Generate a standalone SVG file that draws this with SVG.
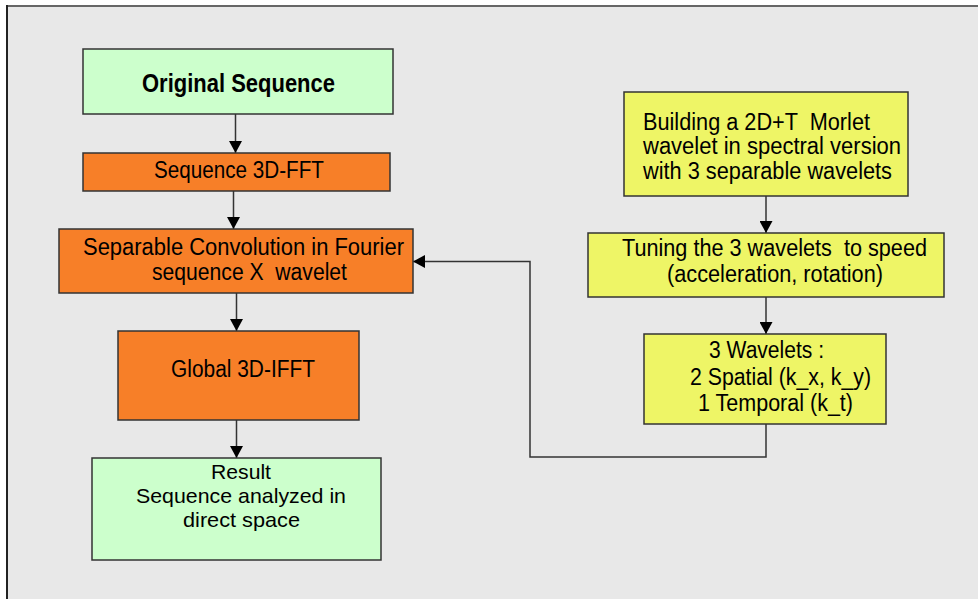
<svg xmlns="http://www.w3.org/2000/svg" width="978" height="599" viewBox="0 0 978 599">
  <defs>
    <style>
      .box { stroke: #333333; stroke-width: 1.5; }
      .green { fill: #ccffcc; }
      .orange { fill: #f77f28; }
      .yellow { fill: #eef566; }
      text { font-family: "Liberation Sans", Arial, sans-serif; font-size: 23px; fill: #000000; white-space: pre; }
      .mid { text-anchor: middle; }
      .bold { font-weight: bold; font-size: 25px; }
      .tight { font-size: 21px; }
      .conn { fill: none; stroke: #333333; stroke-width: 1.5; }
    </style>
    <marker id="arrow" markerUnits="userSpaceOnUse" markerWidth="13" markerHeight="13" refX="12" refY="6.5" orient="auto">
      <path d="M0,0 L12,6.5 L0,13 z" fill="#000000"/>
    </marker>
  </defs>

  <rect x="0" y="0" width="978" height="599" fill="#ffffff"/>
  <rect x="7" y="6" width="975" height="600" fill="#e8e8e8"/>
  <line x1="6" y1="6" x2="978" y2="6" stroke="#666666" stroke-width="2"/>
  <line x1="7" y1="5" x2="7" y2="599" stroke="#222222" stroke-width="2"/>

  <g id="connectors">
    <path class="conn" d="M235.5,114 V153" marker-end="url(#arrow)"/>
    <path class="conn" d="M233.5,191 V229" marker-end="url(#arrow)"/>
    <path class="conn" d="M236.5,293 V331" marker-end="url(#arrow)"/>
    <path class="conn" d="M236.5,420 V458" marker-end="url(#arrow)"/>
    <path class="conn" d="M766,196 V233" marker-end="url(#arrow)"/>
    <path class="conn" d="M766,297 V334" marker-end="url(#arrow)"/>
    <path class="conn" d="M766,424 V457 H530 V261.5 H413" marker-end="url(#arrow)"/>
  </g>

  <g id="original-sequence">
    <rect class="box green" x="83" y="49" width="310" height="65"/>
    <text class="mid bold" x="238.5" y="92" textLength="193" lengthAdjust="spacingAndGlyphs">Original Sequence</text>
  </g>

  <g id="sequence-fft">
    <rect class="box orange" x="83" y="153" width="307" height="38"/>
    <text class="mid" x="239" y="178" textLength="170" lengthAdjust="spacingAndGlyphs">Sequence 3D-FFT</text>
  </g>

  <g id="separable-convolution">
    <rect class="box orange" x="59" y="229" width="354" height="64"/>
    <text class="mid" x="243.5" y="255" textLength="321" lengthAdjust="spacingAndGlyphs">Separable Convolution in Fourier</text>
    <text class="mid" x="249.5" y="280" textLength="195" lengthAdjust="spacingAndGlyphs">sequence X  wavelet</text>
  </g>

  <g id="global-ifft">
    <rect class="box orange" x="118" y="331" width="241" height="89"/>
    <text class="mid" x="243" y="377" textLength="144" lengthAdjust="spacingAndGlyphs">Global 3D-IFFT</text>
  </g>

  <g id="result">
    <rect class="box green" x="92" y="458" width="289" height="102"/>
    <text class="mid tight" x="241" y="479" textLength="60" lengthAdjust="spacingAndGlyphs">Result</text>
    <text class="mid tight" x="241" y="503" textLength="210" lengthAdjust="spacingAndGlyphs">Sequence analyzed in</text>
    <text class="mid tight" x="241.5" y="527" textLength="117" lengthAdjust="spacingAndGlyphs">direct space</text>
  </g>

  <g id="building-morlet">
    <rect class="box yellow" x="624" y="92" width="284" height="104"/>
    <text x="643" y="130" textLength="227" lengthAdjust="spacingAndGlyphs">Building a 2D+T  Morlet</text>
    <text x="643" y="154" textLength="258" lengthAdjust="spacingAndGlyphs">wavelet in spectral version</text>
    <text x="643" y="179" textLength="249" lengthAdjust="spacingAndGlyphs">with 3 separable wavelets</text>
  </g>

  <g id="tuning">
    <rect class="box yellow" x="588" y="233" width="356" height="64"/>
    <text x="622" y="256" textLength="305" lengthAdjust="spacingAndGlyphs">Tuning the 3 wavelets  to speed</text>
    <text x="667" y="282" textLength="216" lengthAdjust="spacingAndGlyphs">(acceleration, rotation)</text>
  </g>

  <g id="three-wavelets">
    <rect class="box yellow" x="644" y="334" width="242" height="90"/>
    <text x="709" y="358" textLength="115" lengthAdjust="spacingAndGlyphs">3 Wavelets :</text>
    <text x="690" y="385" textLength="181" lengthAdjust="spacingAndGlyphs">2 Spatial (k_x, k_y)</text>
    <text x="698" y="411" textLength="155" lengthAdjust="spacingAndGlyphs">1 Temporal (k_t)</text>
  </g>
</svg>
